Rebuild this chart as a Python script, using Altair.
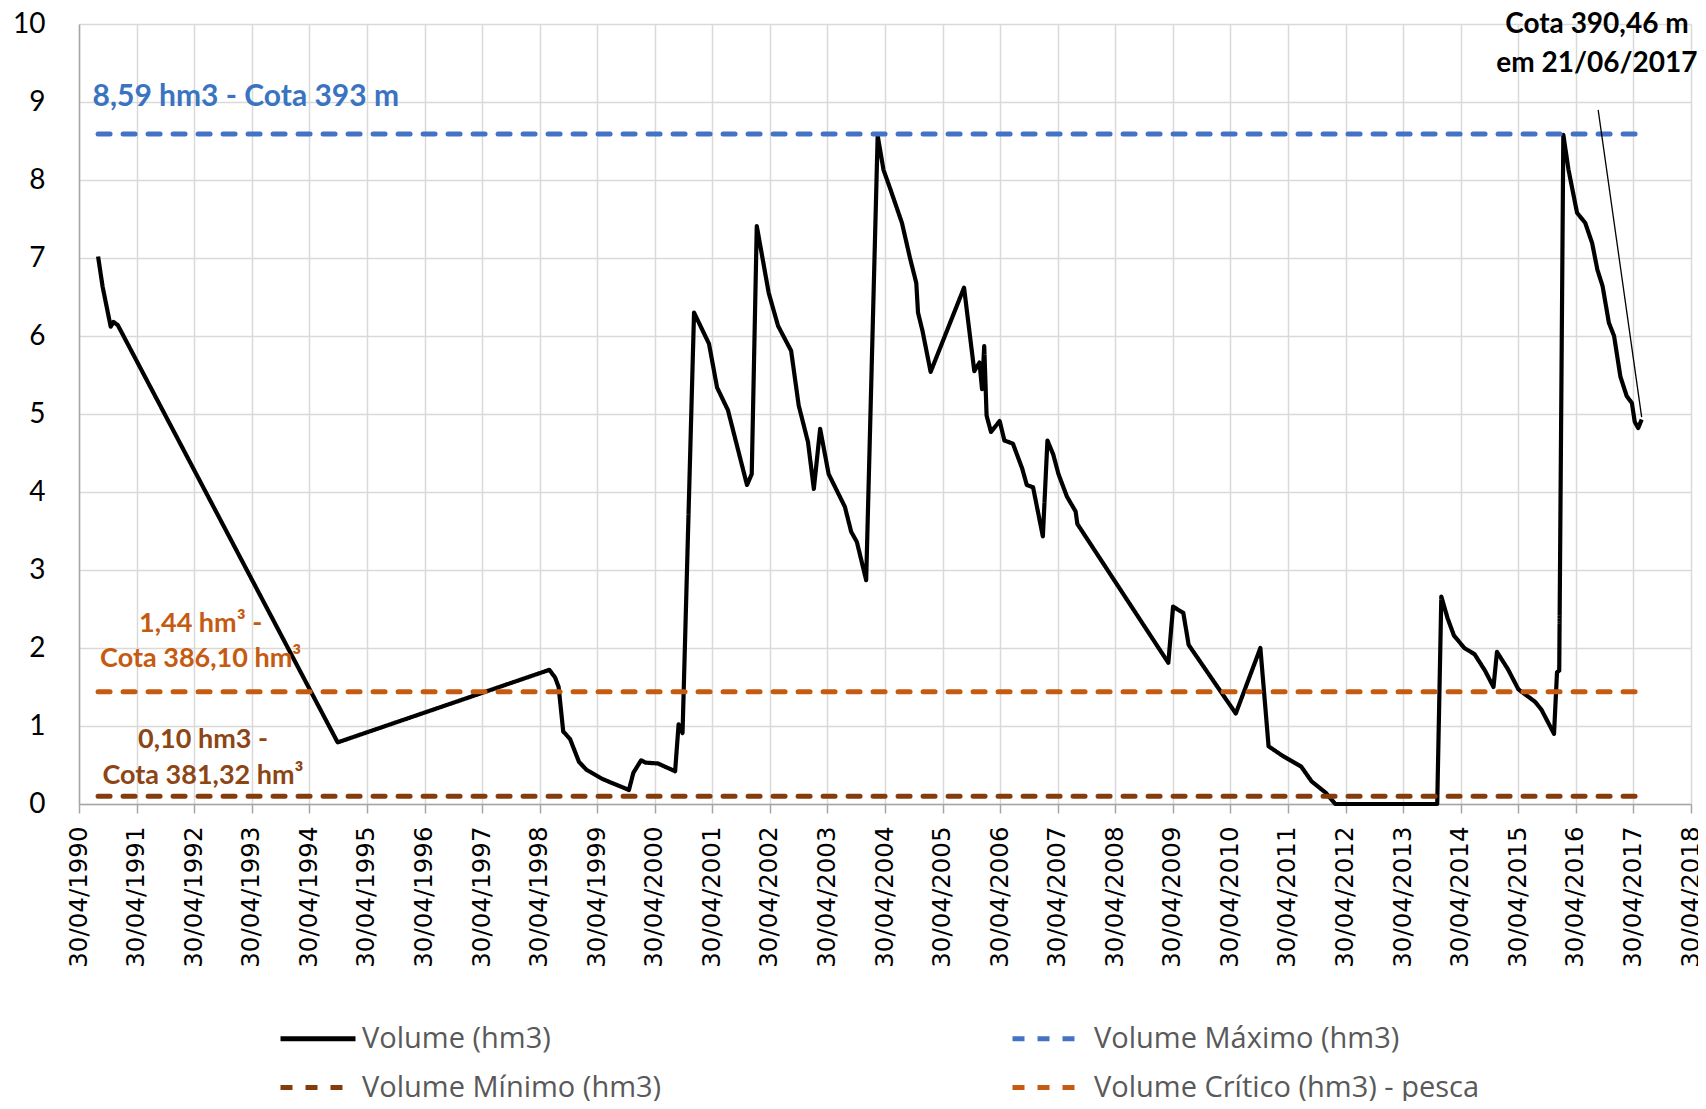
import altair as alt
import pandas as pd

# ---- main series: Volume (hm3) ----
dates = [
    "1990-08-29", "1990-09-27", "1990-11-17", "1990-12-05", "1991-01-01",
    "1994-10-27", "1998-07-01", "1998-08-07", "1998-08-29", "1998-09-27",
    "1998-11-10", "1999-01-05", "1999-02-21", "1999-06-03", "1999-11-18",
    "1999-12-16", "2000-02-03", "2000-03-03", "2000-05-19", "2000-09-06",
    "2000-09-28", "2000-10-23", "2001-01-04", "2001-04-09", "2001-05-30",
    "2001-08-07", "2001-12-06", "2002-01-05", "2002-02-06", "2002-04-23",
    "2002-06-21", "2002-09-12", "2002-10-30", "2002-12-28", "2003-02-03",
    "2003-03-15", "2003-05-08", "2003-08-19", "2003-09-28", "2003-11-03",
    "2004-01-01", "2004-03-14", "2004-04-20", "2004-06-03", "2004-08-15",
    "2004-10-05", "2004-11-14", "2004-11-25", "2004-12-24", "2005-02-13",
    "2005-09-13", "2005-11-17", "2005-12-20", "2006-01-05", "2006-01-19",
    "2006-02-03", "2006-03-03", "2006-04-27", "2006-05-27", "2006-07-20",
    "2006-09-17", "2006-10-16", "2006-11-25", "2007-01-26", "2007-02-24",
    "2007-04-02", "2007-05-05", "2007-06-28", "2007-08-22", "2007-09-02",
    "2009-04-01", "2009-05-01", "2009-07-05", "2009-08-08", "2010-06-03",
    "2010-11-06", "2010-12-28", "2011-03-25", "2011-07-23", "2011-09-27",
    "2011-12-28", "2012-02-24", "2013-12-02", "2013-12-28", "2014-02-06",
    "2014-03-18", "2014-05-23", "2014-07-27", "2014-10-01", "2014-11-24",
    "2014-12-16", "2015-02-23", "2015-05-01", "2015-08-15", "2015-09-24",
    "2015-12-13", "2016-01-01", "2016-01-15", "2016-02-10", "2016-03-14",
    "2016-05-07", "2016-06-28", "2016-08-11", "2016-09-13", "2016-10-16",
    "2016-11-25", "2016-12-28", "2017-02-06", "2017-03-18", "2017-04-20",
    "2017-05-08", "2017-05-30", "2017-06-21",
]
volume = [
    7.02, 6.63, 6.12, 6.18, 6.14,
    0.79, 1.72, 1.62, 1.50, 0.93,
    0.83, 0.54, 0.44, 0.32, 0.18,
    0.40, 0.56, 0.53, 0.52, 0.42,
    1.02, 0.91, 6.30, 5.90, 5.34,
    5.05, 4.09, 4.23, 7.41, 6.55,
    6.13, 5.81, 5.11, 4.64, 4.04,
    4.81, 4.23, 3.81, 3.49, 3.36,
    2.87, 8.57, 8.13, 7.88, 7.45,
    7.00, 6.68, 6.30, 6.06, 5.54,
    6.62, 5.55, 5.66, 5.32, 5.87,
    4.98, 4.77, 4.91, 4.66, 4.62,
    4.30, 4.09, 4.06, 3.43, 4.66,
    4.48, 4.23, 3.94, 3.75, 3.59,
    1.81, 2.53, 2.45, 2.04, 1.16,
    2.00, 0.74, 0.62, 0.48, 0.29,
    0.14, 0.00, 0.00, 2.66, 2.38,
    2.16, 2.00, 1.92, 1.71, 1.50,
    1.95, 1.73, 1.47, 1.31, 1.21,
    0.90, 1.69, 1.71, 8.58, 8.13,
    7.58, 7.45, 7.19, 6.85, 6.64,
    6.17, 6.00, 5.48, 5.23, 5.14,
    4.90, 4.82, 4.93,
]

# ---- reference lines ----
ref_start = "1990-08-29"
ref_end = "2017-06-21"
ref_names = ["Volume Máximo (hm3)", "Volume Mínimo (hm3)", "Volume Crítico (hm3) - pesca"]
ref_values = [8.59, 0.10, 1.44]

series_names = ["Volume (hm3)", "Volume Máximo (hm3)", "Volume Mínimo (hm3)",
                "Volume Crítico (hm3) - pesca"]
series_colors = ["#000000", "#4472C4", "#843C0C", "#C55A11"]
series_dash = [[1, 0], [12, 13], [12, 13], [12, 13]]

tick_years = list(range(1990, 2019))
y_ticks = list(range(0, 11))

# ---- annotations ----
max_label = ["8,59 hm3 - Cota 393 m"]
max_label_date = ["1990-07-25"]
max_label_value = [8.95]

crit_label = ["1,44 hm³ -", "Cota 386,10 hm³"]
crit_label_date = ["1992-06-10", "1992-06-10"]
crit_label_value = [2.21, 1.76]

min_label = ["0,10 hm3 -", "Cota 381,32 hm³"]
min_label_date = ["1992-06-25", "1992-06-25"]
min_label_value = [0.72, 0.26]

note_label = ["Cota 390,46 m", "em 21/06/2017"]
note_label_date = ["2016-09-10", "2016-09-10"]
note_label_value = [9.89, 9.38]

leader_from = ("2016-09-18", 8.90)
leader_to = ("2017-06-21", 4.96)

# ---- data frames ----
main_df = pd.DataFrame({"date": dates, "value": volume, "serie": series_names[0]})
ref_rows = []
for n, v in zip(ref_names, ref_values):
    ref_rows.append({"date": ref_start, "value": v, "serie": n})
    ref_rows.append({"date": ref_end, "value": v, "serie": n})
ref_df = pd.DataFrame(ref_rows)

x_scale = alt.Scale(
    type="utc",
    domain=[alt.DateTime(year=1990, month=4, date=30, utc=True),
            alt.DateTime(year=2018, month=4, date=30, utc=True)],
)
x_axis = alt.Axis(
    title=None,
    values=[alt.DateTime(year=y, month=4, date=30, utc=True) for y in tick_years],
    labelExpr="utcFormat(datum.value, '%d/%m/%Y')",
    labelAngle=270, labelOverlap=False, labelFlush=False, labelBound=False,
    labelFont="DejaVu Sans", labelFontSize=24.5, labelColor="#000000",
    labelPadding=13, tickSize=9, tickColor="#A6A6A6", tickWidth=1.5,
    domainColor="#A6A6A6", domainWidth=1.5,
    grid=True, gridColor="#D9D9D9", gridWidth=1.5,
)
y_scale = alt.Scale(domain=[0, 10], nice=False, zero=True)
y_axis = alt.Axis(
    title=None, values=y_ticks, format="d",
    labelFont="Lato", labelFontSize=28, labelColor="#000000",
    labelPadding=34, ticks=False,
    domainColor="#A6A6A6", domainWidth=1.5,
    grid=True, gridColor="#D9D9D9", gridWidth=1.5,
)

legend = alt.Legend(
    title=None, orient="none", legendX=199, legendY=1001, columns=2,
    direction="horizontal", symbolType="stroke", symbolSize=5625,
    symbolStrokeWidth=5, labelFont="Open Sans", labelFontSize=29,
    labelColor="#595959", labelOffset=4, columnPadding=348, rowPadding=19,
    clipHeight=27, padding=0, labelLimit=600,
)

color = alt.Color("serie:N", scale=alt.Scale(domain=series_names, range=series_colors),
                  legend=legend)
dash = alt.StrokeDash("serie:N", scale=alt.Scale(domain=series_names, range=series_dash),
                      legend=legend)

x_enc = alt.X("date:T", scale=x_scale, axis=x_axis)
y_enc = alt.Y("value:Q", scale=y_scale, axis=y_axis)

main = alt.Chart(main_df).mark_line(strokeWidth=4.2, strokeJoin="round").encode(
    x=x_enc, y=y_enc, color=color, strokeDash=dash)

refs = alt.Chart(ref_df).mark_line(strokeWidth=5, strokeCap="round").encode(
    x=x_enc, y=y_enc, color=color, strokeDash=dash, detail="serie:N")

leader_df = pd.DataFrame({"date": [leader_from[0]], "value": [leader_from[1]],
                          "date2": [leader_to[0]], "value2": [leader_to[1]]})
leader = alt.Chart(leader_df).mark_rule(color="#000000", strokeWidth=1.3).encode(
    x=x_enc, y=y_enc, x2="date2:T", y2="value2:Q")


def text_layer(labels, ds, vs, color_, size, align):
    df = pd.DataFrame({"date": ds, "value": vs, "label": labels})
    return alt.Chart(df).mark_text(
        font="Lato", fontWeight="bold", fontSize=size, color=color_,
        align=align, baseline="alphabetic",
    ).encode(x=x_enc, y=y_enc, text="label:N")


t_max = text_layer(max_label, max_label_date, max_label_value, "#3A74C0", 30, "left")
t_crit = text_layer(crit_label, crit_label_date, crit_label_value, "#C55A11", 27, "center")
t_min = text_layer(min_label, min_label_date, min_label_value, "#8E4514", 27, "center")
t_note = text_layer(note_label, note_label_date, note_label_value, "#000000", 28, "center")

chart = alt.layer(main, refs, leader, t_max, t_crit, t_min, t_note).properties(
    width=1612, height=780,
    autosize=alt.AutoSizeParams(type="none"),
    padding={"left": 71, "top": 16, "right": 7, "bottom": 297},
).configure_view(stroke=None)

chart.save("out.html", embed_options={"renderer": "svg", "actions": False})
